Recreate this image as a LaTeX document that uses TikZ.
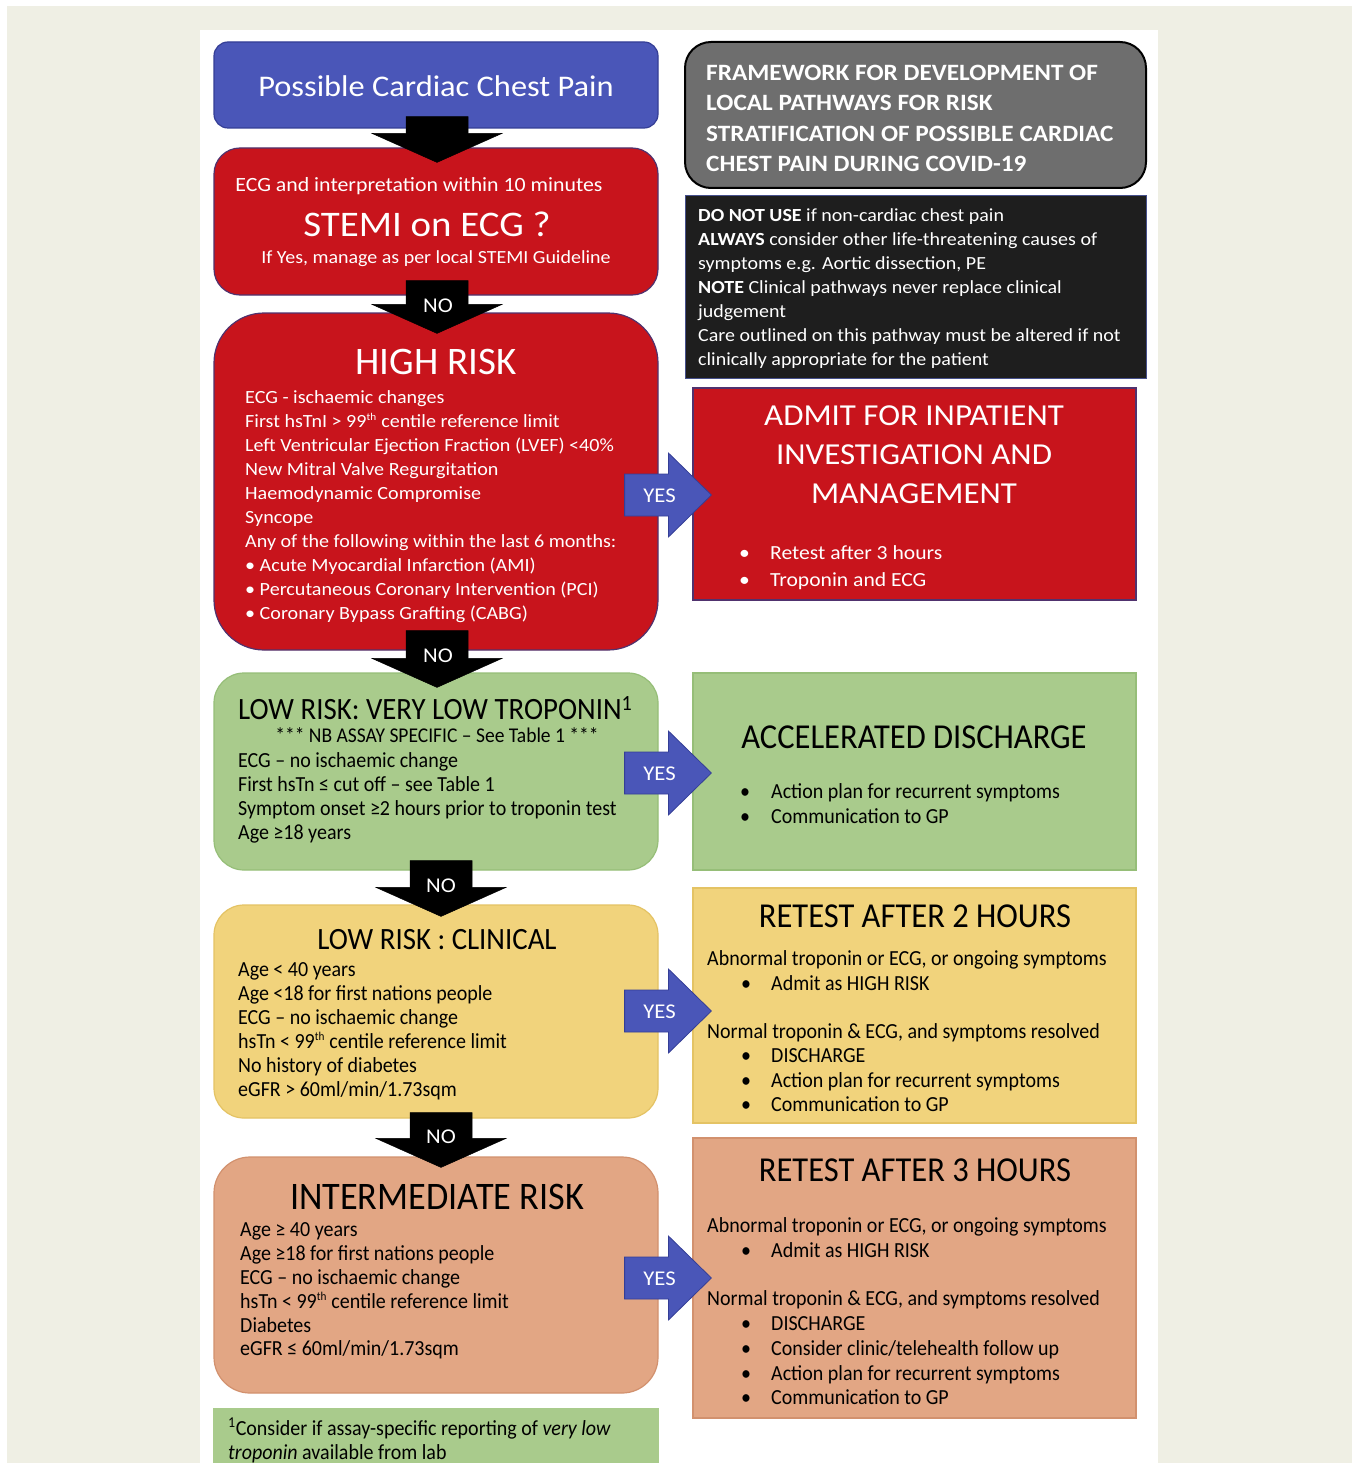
\documentclass[tikz,border=0pt]{standalone}
\usepackage{fontspec}
\setmainfont{Carlito}
\newfontfamily\wf[FakeStretch=1.08]{Carlito}
\newfontfamily\nf[FakeStretch=0.93]{Carlito}
\usetikzlibrary{calc}
\definecolor{bgbeige}{RGB}{239,239,228}
\definecolor{cblue}{RGB}{74,86,184}
\definecolor{cbluedk}{RGB}{52,62,150}
\definecolor{cred}{RGB}{200,20,28}
\definecolor{credln}{RGB}{80,50,110}
\definecolor{cgray}{RGB}{110,110,110}
\definecolor{cblack}{RGB}{30,30,30}
\definecolor{cblackln}{RGB}{70,80,140}
\definecolor{cgreen}{RGB}{169,203,140}
\definecolor{cgreenln}{RGB}{150,190,120}
\definecolor{cyellow}{RGB}{241,211,124}
\definecolor{cyellowln}{RGB}{228,195,100}
\definecolor{csalmon}{RGB}{226,166,132}
\definecolor{csalmonln}{RGB}{210,145,110}
\newcommand\rbul{\hspace*{34pt}\makebox[30pt][l]{\textbullet}}
\newcommand\abul{\makebox[31pt][l]{\textbullet}}
\newcommand\smsup[1]{\textsuperscript{\scalebox{0.8}{#1}}}
\tikzset{
  x=1pt, y=-1pt,
  box/.style={rectangle, inner sep=0pt, line width=1.2pt},
  lbox/.style={box, minimum width=444pt, minimum height=#1},
  rbox/.style={box, minimum width=443pt, minimum height=#1},
  txt/.style={inner sep=0pt, align=left},
  ctxt/.style={inner sep=0pt, align=center},
  noarr/.style={fill=black, draw=black, line width=0.5pt},
  yesarr/.style={fill=cblue, draw=cbluedk, line width=0.8pt},
  nolbl/.style={inner sep=0pt, text=white, font={\wf\fontsize{21}{24}\selectfont}},
  yeslbl/.style={inner sep=0pt, text=white, font={\wf\fontsize{21}{24}\selectfont}},
}
% down block arrow: #1 from, #2 to, #3 stem top above from.south, #4 tip below to.north, #5 x shift
\newcommand\noarrow[5]{%
  \path[noarr] let \p1=(#1.south), \p2=(#2.north) in
   ({\x1+#5pt-31pt},{\y1+#3pt}) -- ({\x1+#5pt+31pt},{\y1+#3pt})
   -- ({\x1+#5pt+31pt},{\y2-#4pt+29pt}) -- ({\x1+#5pt+65pt},{\y2-#4pt+29pt})
   -- ({\x1+#5pt},{\y2-#4pt}) -- ({\x1+#5pt-65pt},{\y2-#4pt+29pt})
   -- ({\x1+#5pt-31pt},{\y2-#4pt+29pt}) -- cycle;}
\newcommand\nolabel[6]{%
  \path let \p1=(#1.south), \p2=(#2.north) in
   node[nolbl] (#3) at ({\x1+#5pt},{\y2-#4pt+#6pt}) {NO};}
% right block arrow: #1 left node, #2 right node, #3 centre y (px), #4 label name
\newcommand\yesarrow[4]{%
  \path[yesarr] let \p1=(#1.east), \p2=(#2.west) in
   ({\x1-34pt},{-(#3-21)*1pt}) -- ({\x2-24pt},{-(#3-21)*1pt})
   -- ({\x2-24pt},{-(#3-42)*1pt}) -- ({\x2+19pt},{-#3*1pt})
   -- ({\x2-24pt},{-(#3+42)*1pt}) -- ({\x2-24pt},{-(#3+21)*1pt})
   -- ({\x1-34pt},{-(#3+21)*1pt}) -- cycle;
  \path let \p1=(#1.east) in node[yeslbl] (#4) at ({\x1+1pt},{-(#3+1)*1pt}) {YES};}
\begin{document}
\begin{tikzpicture}
\useasboundingbox (0,0) rectangle (1352,1463);
\fill[white] (0,0) rectangle (1352,1463);
\fill[bgbeige] (7,6) rectangle (1352,1463);
\fill[white] (200,30) rectangle (1158,1470);

% ---------- left column boxes ----------
\node[lbox=86pt, fill=cblue, draw=cbluedk, rounded corners=14pt] (chest) at (436,85) {};
\node[lbox=147pt, fill=cred, draw=credln, rounded corners=26pt] (stemi) at (436,221.5) {};
\node[lbox=337pt, fill=cred, draw=credln, rounded corners=50pt] (high) at (436,481.5) {};
\node[lbox=197pt, fill=cgreen, draw=cgreenln, rounded corners=30pt] (ltrop) at (436,771.5) {};
\node[lbox=213pt, fill=cyellow, draw=cyellowln, rounded corners=30pt] (lclin) at (436,1011.5) {};
\node[lbox=236pt, fill=csalmon, draw=csalmonln, rounded corners=36pt] (inter) at (436,1275) {};
\node[lbox=70pt, fill=cgreen, draw=cgreen] (foot) at (436,1444) {};

% ---------- right column boxes ----------
\node[box, minimum width=461pt, minimum height=146pt, fill=cgray, draw=black, line width=2pt, rounded corners=26pt] (frame) at (915.5,115) {};
\node[box, minimum width=461pt, minimum height=182pt, fill=cblack, draw=cblackln, line width=1pt] (note) at (915.5,287) {};
\node[rbox=212pt, fill=cred, draw=credln] (admit) at (914.5,494) {};
\node[rbox=197pt, fill=cgreen, draw=cgreenln] (accel) at (914.5,771.5) {};
\node[rbox=235pt, fill=cyellow, draw=cyellowln] (ret2) at (914.5,1005.5) {};
\node[rbox=280pt, fill=csalmon, draw=csalmonln] (ret3) at (914.5,1278) {};

% ---------- texts: left ----------
\node[ctxt, text=white, font={\wf\fontsize{30}{34}\selectfont}] (chestT) at (436,86) {Possible Cardiac Chest Pain};

\node[ctxt, text=white, font={\wf\fontsize{20.2}{24}\selectfont}] (stemiA) at (419,186) {ECG and interpretation within 10 minutes};
\node[ctxt, text=white, font={\wf\fontsize{36}{40}\selectfont}] (stemiT) at (427,224) {STEMI on ECG ?};
\node[ctxt, text=white, font={\wf\fontsize{18.5}{24}\selectfont}] (stemiB) at (436,259) {If Yes, manage as per local STEMI Guideline};

\node[ctxt, text=white, font={\fontsize{39}{44}\selectfont}] (highT) at (436,362) {HIGH RISK};
\node[txt, anchor=north west, text=white, font={\wf\fontsize{18.6}{24}\selectfont}] (highB) at (245,386)
 {\strut ECG - ischaemic changes\\
  First hsTnI > 99\smsup{th} centile reference limit\\
  Left Ventricular Ejection Fraction (LVEF) <40\%\\
  New Mitral Valve Regurgitation\\
  Haemodynamic Compromise\\
  Syncope\\
  Any of the following within the last 6 months:\\
  \textbullet\ Acute Myocardial Infarction (AMI)\\
  \textbullet\ Percutaneous Coronary Intervention (PCI)\\
  \textbullet\ Coronary Bypass Grafting (CABG)};

\node[txt, anchor=west, font={\nf\fontsize{31}{34}\selectfont}] (ltropT) at (238,708) {LOW RISK: VERY LOW TROPONIN\textsuperscript{1}};
\node[ctxt, font={\nf\fontsize{21}{24}\selectfont}] (ltropA) at (437,735) {*** NB ASSAY SPECIFIC – See Table 1 ***};
\node[txt, anchor=north west, font={\nf\fontsize{21.5}{24}\selectfont}] (ltropB) at (238,750)
 {\strut ECG – no ischaemic change\\
  First hsTn ≤ cut off – see Table 1\\
  Symptom onset ≥2 hours prior to troponin test\\
  Age ≥18 years};

\node[ctxt, font={\nf\fontsize{31}{34}\selectfont}] (lclinT) at (437,940) {LOW RISK : CLINICAL};
\node[txt, anchor=north west, font={\nf\fontsize{21.5}{24}\selectfont}] (lclinB) at (238,959)
 {\strut Age < 40 years\\
  Age <18 for first nations people\\
  ECG – no ischaemic change\\
  hsTn < 99\smsup{th} centile reference limit\\
  No history of diabetes\\
  eGFR > 60ml/min/1.73sqm};

\node[ctxt, font={\nf\fontsize{39}{42}\selectfont}] (interT) at (437,1197) {INTERMEDIATE RISK};
\node[txt, anchor=north west, font={\nf\fontsize{21.5}{23.8}\selectfont}] (interB) at (240,1220)
 {\strut Age ≥ 40 years\\
  Age ≥18 for first nations people\\
  ECG – no ischaemic change\\
  hsTn < 99\smsup{th} centile reference limit\\
  Diabetes\\
  eGFR ≤ 60ml/min/1.73sqm};

\node[txt, anchor=north west, font={\nf\fontsize{21.5}{24}\selectfont}] (footB) at (228,1418)
 {\strut\textsuperscript{1}Consider if assay-specific reporting of \textit{very low}\\
  \textit{troponin} available from lab};

% ---------- texts: right ----------
\node[txt, anchor=north west, text=white, font={\wf\bfseries\fontsize{23.4}{30.3}\selectfont}] (frameT) at (706,59)
 {\strut FRAMEWORK FOR DEVELOPMENT OF\\
  LOCAL PATHWAYS FOR RISK\\
  STRATIFICATION OF POSSIBLE CARDIAC\\
  CHEST PAIN DURING COVID-19};

\node[txt, anchor=north west, text=white, font={\wf\fontsize{18.5}{24}\selectfont}] (noteT) at (698,204)
 {\strut\textbf{DO NOT USE} if non-cardiac chest pain\\
  \textbf{ALWAYS} consider other life-threatening causes of\\
  symptoms e.g. Aortic dissection, PE\\
  \textbf{NOTE} Clinical pathways never replace clinical\\
  judgement\\
  Care outlined on this pathway must be altered if not\\
  clinically appropriate for the patient};

\node[ctxt, text=white, font={\wf\fontsize{30.5}{39}\selectfont}] (admitT) at (914,455)
 {ADMIT FOR INPATIENT\\ INVESTIGATION AND\\ MANAGEMENT};
\node[txt, anchor=north west, text=white, font={\wf\fontsize{20}{27}\selectfont}] (admitB) at (739,540)
 {\strut\abul Retest after 3 hours\\
  \abul Troponin and ECG};

\node[ctxt, font={\nf\fontsize{35}{38}\selectfont}] (accelT) at (914,737) {ACCELERATED DISCHARGE};
\node[txt, anchor=north west, font={\nf\fontsize{21.5}{25}\selectfont}] (accelB) at (740,781)
 {\strut\makebox[31pt][l]{\textbullet}Action plan for recurrent symptoms\\
  \makebox[31pt][l]{\textbullet}Communication to GP};

\node[ctxt, font={\nf\fontsize{35}{38}\selectfont}] (ret2T) at (915,916) {RETEST AFTER 2 HOURS};
\node[txt, anchor=north west, font={\nf\fontsize{21.5}{24.6}\selectfont}] (ret2B) at (707,948)
 {\strut Abnormal troponin or ECG, or ongoing symptoms\\
  \rbul Admit as HIGH RISK\\[23.5pt]
  Normal troponin \& ECG, and symptoms resolved\\
  \rbul DISCHARGE\\
  \rbul Action plan for recurrent symptoms\\
  \rbul Communication to GP};

\node[ctxt, font={\nf\fontsize{35}{38}\selectfont}] (ret3T) at (915,1170) {RETEST AFTER 3 HOURS};
\node[txt, anchor=north west, font={\nf\fontsize{21.5}{24.8}\selectfont}] (ret3B) at (707,1215)
 {\strut Abnormal troponin or ECG, or ongoing symptoms\\
  \rbul Admit as HIGH RISK\\[23.5pt]
  Normal troponin \& ECG, and symptoms resolved\\
  \rbul DISCHARGE\\
  \rbul Consider clinic/telehealth follow up\\
  \rbul Action plan for recurrent symptoms\\
  \rbul Communication to GP};

% ---------- connectors ----------
\noarrow{chest}{stemi}{12}{15}{1}
\noarrow{stemi}{high}{15}{21}{1}
\nolabel{stemi}{high}{no1}{21}{2}{28}
\noarrow{high}{ltrop}{20}{15}{1}
\nolabel{high}{ltrop}{no2}{15}{2}{32}
\noarrow{ltrop}{lclin}{10}{12}{5}
\nolabel{ltrop}{lclin}{no3}{12}{5}{31}
\noarrow{lclin}{inter}{6}{11}{5}
\nolabel{lclin}{inter}{no4}{11}{5}{31}

\yesarrow{high}{admit}{495}{yes1}
\yesarrow{ltrop}{accel}{773}{yes2}
\yesarrow{lclin}{ret2}{1011}{yes3}
\yesarrow{inter}{ret3}{1278}{yes4}
\end{tikzpicture}
\end{document}
